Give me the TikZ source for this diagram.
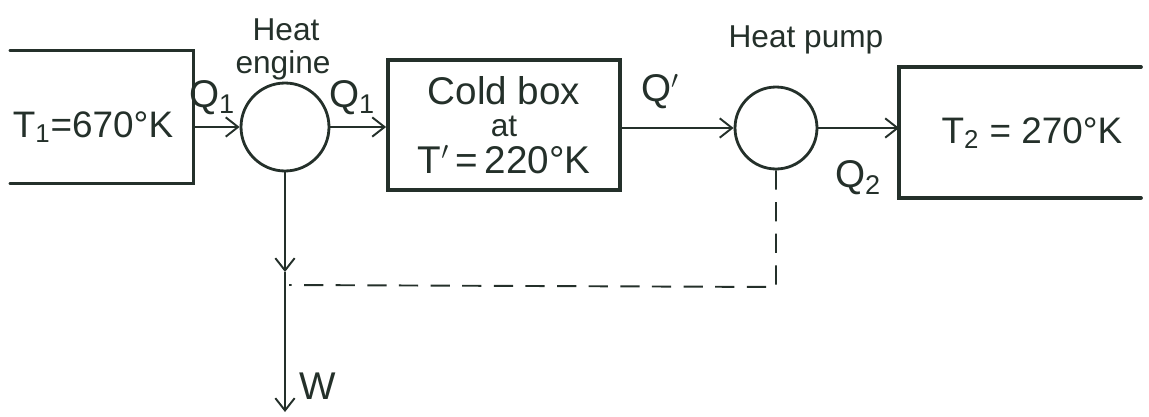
\documentclass[tikz,border=0pt]{standalone}
\usepackage{fontspec}
\setmainfont{Liberation Sans}
\usetikzlibrary{arrows.meta, positioning}
\definecolor{ink}{HTML}{24302A}

\begin{document}
\begin{tikzpicture}[
  x=0.02cm, y=0.02cm,
  color=ink, line width=1.1pt,
  wall/.style={line width=2.2pt, line cap=round},
  resbox/.style={minimum width=#1, minimum height=2.62cm, inner sep=0pt},
  cyc/.style={draw, circle, line width=1.6pt, minimum size=#1, inner sep=0pt},
  big/.style={font=\fontsize{21}{21}\selectfont, inner sep=0pt},
  lbl/.style={font=\fontsize{18}{18}\selectfont, inner sep=0pt},
  flow/.style={font=\fontsize{22}{22}\selectfont, inner sep=1pt},
  arr/.style={-{Straight Barb[length=7pt, width=11pt, line width=1.1pt]}},
  ret/.style={dash pattern=on 11pt off 7pt},
]
\useasboundingbox (0,0) rectangle (1149,-416);

% Hot reservoir (open on the left)
\node[resbox=3.62cm] (hot) at (102,-117) {};
\draw[wall] (hot.north west) -- (hot.north east) -- (hot.south east) -- (hot.south west);
\node[big] (hotT) at (93,-127) {T\textsubscript{1}=670°K};

% Heat engine
\node[cyc=1.76cm] (engine) at (285,-127) {};
\node[lbl] (engLbl) at (283,-65) {engine};
\node[lbl] (engLbl2) at (286,-30) {Heat};

% Cold box
\node[draw, wall, minimum width=4.64cm, minimum height=2.6cm, align=center,
      font=\fontsize{22}{21}\selectfont] (cold) at (504,-125)
  {Cold box\\[-3pt] {\fontsize{18}{18}\selectfont at}\\ T$'$\,=\,220°K};

% Heat pump
\node[cyc=1.64cm] (pump) at (776,-128) {};
\node[lbl] (pumpLbl) at (806,-40) {Heat pump};

% Warm reservoir (open on the right)
\node[resbox=4.8cm, minimum height=2.58cm] (warm) at (1020,-132.5) {};
\draw[wall] (warm.north east) -- (warm.north west) -- (warm.south west) -- (warm.south east);
\node[big] (warmT) at (1032,-133) {T\textsubscript{2} = 270°K};

% Flow labels
\node[flow] (q1in) at (212,-98) {Q\textsubscript{1}};
\node[flow] (q1out) at (352,-98) {Q\textsubscript{1}};
\node[flow] (qc) at (660,-92) {Q$'$};
\node[flow] (q2) at (858,-178) {Q\textsubscript{2}};
\node[flow] (work) at (318,-386) {W};

% Work line and return path
\coordinate (wTip) at (285,-272);
\coordinate (wEnd) at (285,-412);
\coordinate (turn) at (776,-287);
\coordinate (join) at (289,-285);

% Arrows
\draw[arr] (engine.west -| hot.east) -- (engine.west);
\draw[arr] (engine.east) -- (engine.east -| cold.west);
\draw[arr] (cold.east |- pump.west) -- (pump.west);
\draw[arr] (pump.east) -- (pump.east -| warm.west);
\draw[arr] (engine.south) -- (wTip);
\draw[arr] (wTip) -- (wEnd);
\draw[ret] (pump.south) -- (turn) -- (join);

\end{tikzpicture}
\end{document}
